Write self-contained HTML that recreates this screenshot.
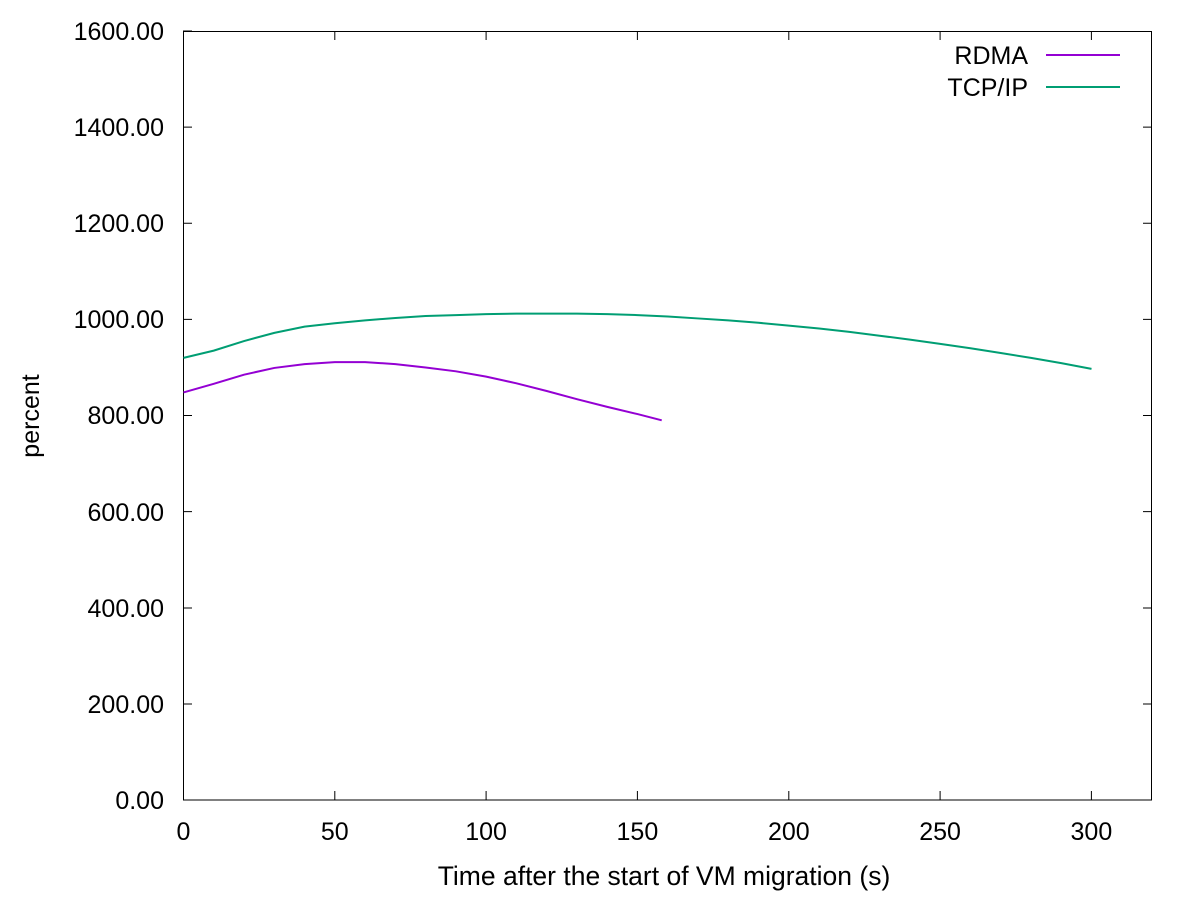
<!DOCTYPE html>
<html><head><meta charset="utf-8"><style>
html,body{margin:0;padding:0;background:#fff;}
text{font-family:"Liberation Sans",Arial,sans-serif;font-size:25px;fill:#000;}
</style></head><body>
<svg width="1200" height="900" viewBox="0 0 1200 900" xmlns="http://www.w3.org/2000/svg">
<rect x="0" y="0" width="1200" height="900" fill="#fff"/>
<g stroke="#000" stroke-width="1" fill="none">
<rect x="183.5" y="31.5" width="968" height="768.5"/>
<path d="M183 800h9M183 704h9M183 608h9M183 511.6h9M183 415.5h9M183 319.4h9M183 223.2h9M183 127.1h9M183 31h9
M1152 704h-9M1152 608h-9M1152 511.6h-9M1152 415.5h-9M1152 319.4h-9M1152 223.2h-9M1152 127.1h-9"/>
<path d="M183.5 800v-9M334.8 800v-9M486.1 800v-9M637.4 800v-9M788.8 800v-9M940.1 800v-9M1091.4 800v-9
M334.8 31v9M486.1 31v9M637.4 31v9M788.8 31v9M940.1 31v9M1091.4 31v9"/>
</g>
<g text-anchor="end">
<text x="164" y="809">0.00</text>
<text x="164" y="713">200.00</text>
<text x="164" y="617">400.00</text>
<text x="164" y="521">600.00</text>
<text x="164" y="424">800.00</text>
<text x="164" y="328">1000.00</text>
<text x="164" y="232">1200.00</text>
<text x="164" y="136">1400.00</text>
<text x="164" y="40">1600.00</text>
</g>
<g text-anchor="middle">
<text x="183.5" y="840">0</text>
<text x="334.8" y="840">50</text>
<text x="486.1" y="840">100</text>
<text x="637.4" y="840">150</text>
<text x="788.8" y="840">200</text>
<text x="940.1" y="840">250</text>
<text x="1091.4" y="840">300</text>
<text x="664" y="885" style="font-size:26.5px">Time after the start of VM migration (s)</text>
<text transform="translate(39,416) rotate(-90)">percent</text>
</g>
<text x="1028" y="64" text-anchor="end">RDMA</text>
<text x="1028" y="96" text-anchor="end">TCP/IP</text>
<path d="M1046 55h74" stroke="#9400d3" stroke-width="2"/>
<path d="M1046 87h74" stroke="#009e73" stroke-width="2"/>
<g transform="translate(183.5,800) scale(3.0267,-0.4806)" fill="none" stroke-width="2">
<polyline vector-effect="non-scaling-stroke" stroke="#009e73" points="0,920 10,935 20,955 30,972 40,985 50,992 60,998 70,1003 80,1007 90,1009 100,1011 110,1012 120,1012 130,1012 140,1011 150,1009 160,1006 170,1002 180,998 190,993 200,987 210,981 220,974 230,966 240,958 250,949 260,940 270,930 280,920 290,909 300,897"/>
<polyline vector-effect="non-scaling-stroke" stroke="#9400d3" points="0,848 10,866 20,885 30,899 40,907 50,911 60,911 70,907 80,900 90,892 100,881 110,867 120,851 130,834 140,818 150,803 158,790"/>
</g>
</svg>
</body></html>
